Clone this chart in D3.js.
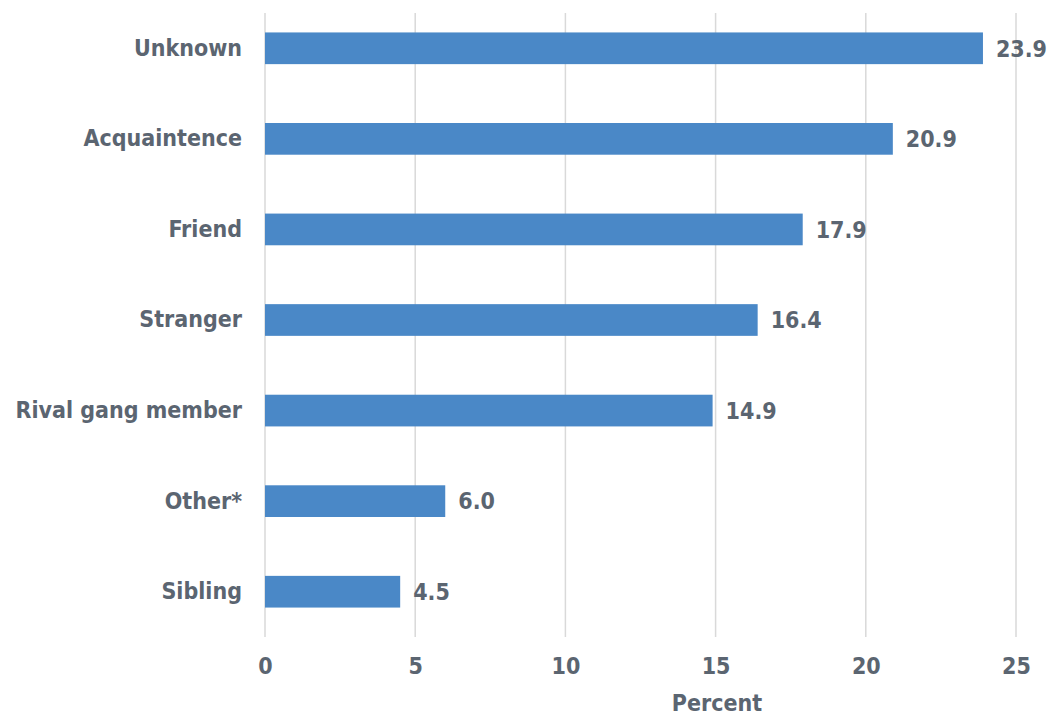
<!DOCTYPE html>
<html>
<head>
<meta charset="utf-8">
<script src="https://cdn.jsdelivr.net/npm/d3@7"></script>
<style>
  body { margin: 0; background: #fff; }
  svg text { font-family: "DejaVu Sans Condensed", "DejaVu Sans", sans-serif; font-stretch: condensed; font-weight: bold; fill: #5b6571; }
</style>
</head>
<body>
<svg width="1055" height="715"></svg>
<script>
var categories = ['Unknown', 'Acquaintence', 'Friend', 'Stranger', 'Rival gang member', 'Other*', 'Sibling'];
var values = [23.9, 20.9, 17.9, 16.4, 14.9, 6.0, 4.5];
var xTicks = [0, 5, 10, 15, 20, 25];
var axisTitle = 'Percent';

var svg = d3.select('svg');
var margin = {top: 3, right: 39, bottom: 78, left: 265}
  , width = svg.attr('width') - margin.left - margin.right
  , height = svg.attr('height') - margin.top - margin.bottom;

var data = categories.map(function(c, i) { return {name: c, value: values[i]}; });

var xScale = d3.scaleLinear()
    .domain([0, 25])
    .range([0, width]);

var yScale = d3.scaleBand()
    .domain(categories)
    .range([0, height])
    .paddingInner(0.65)
    .paddingOuter(0.325);

var g = svg.append('g')
    .attr('transform', 'translate(' + margin.left + ',' + margin.top + ')');

// gridlines
g.selectAll('.grid')
    .data(xTicks)
  .enter().append('line')
    .attr('class', 'grid')
    .attr('x1', function(d) { return xScale(d); })
    .attr('x2', function(d) { return xScale(d); })
    .attr('y1', 10)
    .attr('y2', height)
    .attr('stroke', '#d9d9d9')
    .attr('stroke-width', 1.5);

// bars
g.selectAll('.bar')
    .data(data)
  .enter().append('rect')
    .attr('class', 'bar')
    .attr('x', xScale(0))
    .attr('y', function(d) { return yScale(d.name); })
    .attr('width', function(d) { return xScale(d.value) - xScale(0); })
    .attr('height', yScale.bandwidth())
    .attr('fill', '#4a88c7');

// value labels
g.selectAll('.val')
    .data(data)
  .enter().append('text')
    .attr('class', 'val')
    .attr('x', function(d) { return xScale(d.value) + 13; })
    .attr('y', function(d) { return yScale(d.name) + yScale.bandwidth() / 2; })
    .attr('dy', '0.36em')
    .style('font-size', '23px')
    .text(function(d) { return d.value.toFixed(1); });

// category labels
var yAxis = g.append('g')
    .call(d3.axisLeft(yScale).tickSize(0).tickPadding(23));
yAxis.select('.domain').remove();
yAxis.selectAll('text')
    .style('font-size', '23px')
    .attr('fill', null);

// x axis
var xAxis = g.append('g')
    .attr('transform', 'translate(0,' + height + ')')
    .call(d3.axisBottom(xScale).tickValues(xTicks).tickSize(0).tickPadding(21));
xAxis.select('.domain').remove();
xAxis.selectAll('text')
    .style('font-size', '23px')
    .attr('fill', null);

svg.append('text')
    .attr('x', 717)
    .attr('y', 711)
    .attr('text-anchor', 'middle')
    .style('font-size', '23px')
    .text(axisTitle);
</script>
</body>
</html>
